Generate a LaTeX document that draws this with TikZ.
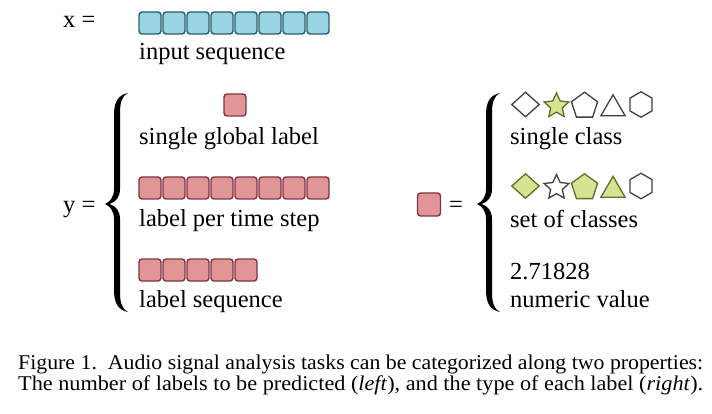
\documentclass[tikz,border=0pt]{standalone}
\usepackage{fontspec}
\setmainfont{Liberation Serif}
\usetikzlibrary{shapes.geometric}
\definecolor{bluefill}{RGB}{154,212,228}
\definecolor{blueline}{RGB}{38,95,110}
\definecolor{pinkfill}{RGB}{224,150,150}
\definecolor{pinkline}{RGB}{130,50,70}
\definecolor{greenfill}{RGB}{214,228,145}
\definecolor{greenline}{RGB}{95,110,40}
\definecolor{shpline}{RGB}{64,64,64}
\newcommand{\capline}[1]{\resizebox{685pt}{\height}{#1}}
\tikzset{
  cell/.style={rectangle, rounded corners=3pt, minimum size=22pt, inner sep=0pt, line width=1.4pt},
  bluecell/.style={cell, draw=blueline, fill=bluefill},
  pinkcell/.style={cell, draw=pinkline, fill=pinkfill},
  lbl/.style={anchor=base west, inner sep=0pt, font=\fontsize{24.5}{29}\selectfont},
  caption/.style={anchor=base west, inner sep=0pt, font=\fontsize{21}{24}\selectfont},
  shp/.style={draw=shpline, line width=1.3pt, inner sep=0pt, fill=white},
  on/.style={draw=greenline, fill=greenfill},
  dia/.style={shp, diamond, minimum width=28pt, minimum height=25pt},
  str/.style={shp, star, star points=5, star point ratio=2.1, minimum size=26pt},
  pent/.style={shp, regular polygon, regular polygon sides=5, minimum size=27.5pt},
  tri/.style={shp, regular polygon, regular polygon sides=3, minimum size=28pt},
  hexa/.style={shp, regular polygon, regular polygon sides=6, regular polygon rotate=30, minimum size=25.5pt},
  bigbrace/.pic={
    \fill (23,0) .. controls (13,2) and (9,9) .. (9,22)
      -- (9,96) .. controls (9,104) and (5,109) .. (0,111)
      .. controls (5,113) and (9,118) .. (9,126)
      -- (9,197) .. controls (9,210) and (13,217) .. (23,219)
      .. controls (16,215) and (15,209) .. (15,197)
      -- (15,126) .. controls (15,118) and (11,113) .. (4.5,111)
      .. controls (11,109) and (15,104) .. (15,96)
      -- (15,22) .. controls (15,10) and (16,4) .. (23,0) -- cycle;
  }
}
\begin{document}
\begin{tikzpicture}[x=1pt, y=-1pt]
\useasboundingbox (0,0) rectangle (712,414);
% x row
\node[lbl] (xeq) at (63,28) {x =};
\foreach \i in {0,...,7} {
  \node[bluecell] (b\i) at (150+24*\i,23) {};
}
\node[lbl] (inseq) at (139,60) {input sequence};
% y
\node[lbl] (yeq) at (63,213) {y =};
\pic (lbrace) at (105,93) {bigbrace};
\node[pinkcell] (g0) at (235,105) {};
\node[lbl] (sgl) at (139,145) {single global label};
\foreach \i in {0,...,7} {
  \node[pinkcell] (t\i) at (150+24*\i,188) {};
}
\node[lbl] (lpts) at (139,226) {label per time step};
\foreach \i in {0,...,4} {
  \node[pinkcell] (s\i) at (150+24*\i,270) {};
}
\node[lbl] (lseq) at (139,307) {label sequence};
% right
\node[pinkcell, minimum size=23pt] (r0) at (429,204.5) {};
\node[lbl] (req) at (449,212) {=};
\pic (rbrace) at (477,93) {bigbrace};
\node[dia] (d1) at (525.5,104.5) {};
\node[str, on] (st1) at (556.5,106) {};
\node[pent] (p1) at (584.5,106) {};
\node[tri] (tr1) at (613,108.8) {};
\node[hexa] (h1) at (641,104.5) {};
\node[lbl] (sc) at (510,145) {single class};
\node[dia, on] (d2) at (525.5,186) {};
\node[str] (st2) at (556.5,187.5) {};
\node[pent, on] (p2) at (584.5,187.5) {};
\node[tri, on] (tr2) at (613,190.3) {};
\node[hexa] (h2) at (641,186) {};
\node[lbl] (soc) at (510,227) {set of classes};
\node[lbl] (num) at (510,279) {2.71828};
\node[lbl] (nv) at (510,307) {numeric value};
% caption
\node[caption] (cap1) at (18,369) {\capline{Figure 1.\ \ Audio signal analysis tasks can be categorized along two properties:}};
\node[caption] (cap2) at (18,390) {\capline{The number of labels to be predicted (\textit{left}), and the type of each label (\textit{right}).}};
\end{tikzpicture}
\end{document}
